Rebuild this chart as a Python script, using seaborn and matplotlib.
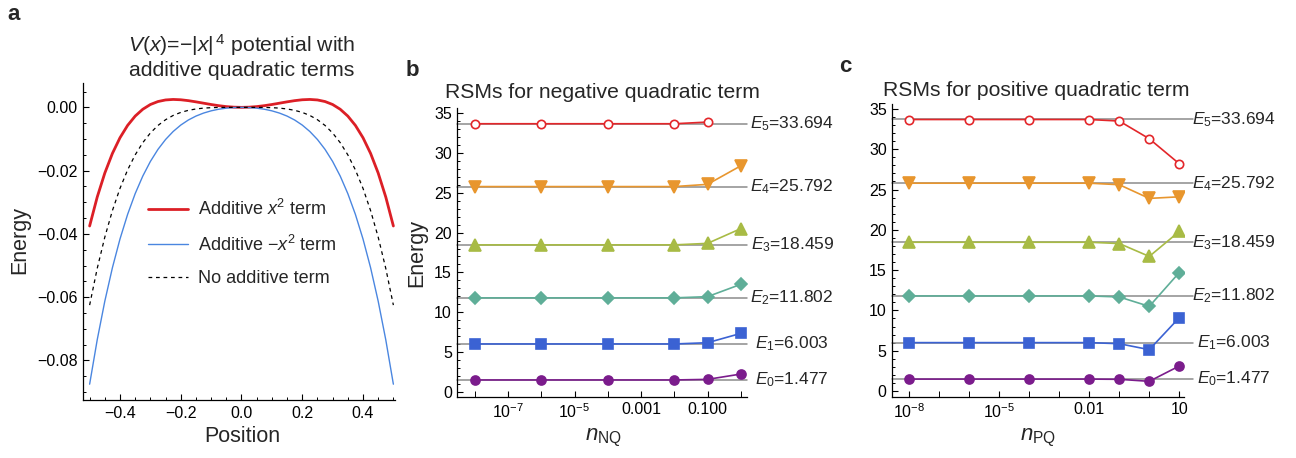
import numpy as np
import matplotlib
matplotlib.use("Agg")
import matplotlib.pyplot as plt
import matplotlib.ticker as mticker
import matplotlib.transforms as mtransforms
import seaborn as sns

# panel a: potentials (x from -0.5 to 0.5, step 0.025)
position = np.linspace(-0.5, 0.5, 41)
v_plus_x2 = [-0.0375, -0.02835, -0.02076, -0.01456, -0.0096, -0.00571, -0.00276, -0.00060,
             0.0009, 0.00184, 0.00234, 0.0025, 0.0024, 0.00212, 0.00174, 0.00132, 0.0009,
             0.00053, 0.00024, 0.00006, 0.0, 0.00006, 0.00024, 0.00053, 0.0009, 0.00132,
             0.00174, 0.00212, 0.0024, 0.0025, 0.00234, 0.00184, 0.0009, -0.00060, -0.00276,
             -0.00571, -0.0096, -0.01456, -0.02076, -0.02835, -0.0375]
v_minus_x2 = [-0.0875, -0.07347, -0.06126, -0.05069, -0.0416, -0.03384, -0.02726, -0.02172,
              -0.0171, -0.01328, -0.01016, -0.00763, -0.0056, -0.004, -0.00276, -0.00181,
              -0.0011, -0.00059, -0.00026, -0.00006, 0.0, -0.00006, -0.00026, -0.00059,
              -0.0011, -0.00181, -0.00276, -0.004, -0.0056, -0.00763, -0.01016, -0.01328,
              -0.0171, -0.02172, -0.02726, -0.03384, -0.0416, -0.05069, -0.06126, -0.07347,
              -0.0875]
v_none = [-0.0625, -0.05091, -0.04101, -0.03263, -0.0256, -0.01978, -0.01501, -0.01116,
          -0.0081, -0.00572, -0.00391, -0.00256, -0.0016, -0.00094, -0.00051, -0.00024,
          -0.0001, -0.00003, -0.00001, 0.0, 0.0, 0.0, -0.00001, -0.00003, -0.0001, -0.00024,
          -0.00051, -0.00094, -0.0016, -0.00256, -0.00391, -0.00572, -0.0081, -0.01116,
          -0.01501, -0.01978, -0.0256, -0.03263, -0.04101, -0.05091, -0.0625]

# exact eigenvalues
levels = [1.477, 6.003, 11.802, 18.459, 25.792, 33.694]
level_labels = ["$E_0$=1.477", "$E_1$=6.003", "$E_2$=11.802",
                "$E_3$=18.459", "$E_4$=25.792", "$E_5$=33.694"]

# panel b: negative quadratic term
n_nq = [1e-8, 1e-6, 1e-4, 1e-2, 1e-1, 1.0]
rsm_nq = [
    [1.477, 1.477, 1.477, 1.477, 1.55, 2.22],
    [6.003, 6.003, 6.003, 6.003, 6.16, 7.33],
    [11.80, 11.80, 11.80, 11.80, 11.95, 13.5],
    [18.46, 18.46, 18.46, 18.46, 18.65, 20.5],
    [25.79, 25.79, 25.79, 25.79, 26.07, 28.4],
    [33.69, 33.69, 33.69, 33.69, 33.9],
]

# panel c: positive quadratic term
n_pq = [1e-8, 1e-6, 1e-4, 1e-2, 1e-1, 1.0, 10.0]
rsm_pq = [
    [1.477, 1.477, 1.477, 1.477, 1.45, 1.2, 3.1],
    [6.003, 6.003, 6.003, 6.003, 5.87, 5.13, 9.1],
    [11.80, 11.80, 11.80, 11.80, 11.67, 10.5, 14.7],
    [18.46, 18.46, 18.46, 18.46, 18.3, 16.7, 19.8],
    [25.79, 25.79, 25.79, 25.79, 25.6, 23.9, 24.1],
    [33.69, 33.69, 33.69, 33.69, 33.5, 31.3, 28.2],
]

colors = ["#7b1c8c", "#3b62d3", "#5fae98", "#a8bb45", "#e8962e", "#e3262a"]
markers = ["o", "s", "D", "^", "v", "o"]
msizes = [6.5, 7.5, 6, 8.5, 8.5, 6]

sns.set_theme(style="ticks")
plt.rcParams["font.family"] = ["Liberation Sans", "DejaVu Sans"]
plt.rcParams["mathtext.fontset"] = "custom"
plt.rcParams["mathtext.rm"] = "Liberation Sans"
plt.rcParams["mathtext.it"] = "Liberation Sans:italic"
plt.rcParams["axes.unicode_minus"] = True

fig = plt.figure(figsize=(12.96, 4.58), dpi=100)
ax_a = fig.add_axes([0.0640, 0.1266, 0.2407, 0.6915])
ax_b = fig.add_axes([0.3529, 0.1338, 0.2233, 0.6304])
ax_c = fig.add_axes([0.6885, 0.1338, 0.2253, 0.6385])


def style_axes(ax):
    for side in ["top", "right"]:
        ax.spines[side].set_visible(False)
    for side in ["left", "bottom"]:
        ax.spines[side].set_linewidth(0.9)
        ax.spines[side].set_color("black")
    ax.tick_params(which="major", direction="in", length=4, width=0.8,
                   labelsize=11.5, colors="black", pad=4)
    ax.tick_params(which="minor", direction="in", length=2.2, width=0.7, colors="black")
    ax.grid(False)


def fmt(dec):
    return mticker.FuncFormatter(lambda v, p: f"{v:.{dec}f}".replace("-", "\u2212"))


# ---- panel a
sns.lineplot(x=position, y=v_plus_x2, ax=ax_a, color="#dc1f26", lw=2.0,
             label="Additive $x^2$ term")
sns.lineplot(x=position, y=v_minus_x2, ax=ax_a, color="#4a86e0", lw=1.0,
             label="Additive \u2212$x^2$ term")
sns.lineplot(x=position, y=v_none, ax=ax_a, color="black", lw=0.9,
             linestyle=(0, (3, 3)), label="No additive term")
ax_a.set_xlim(-0.522, 0.505)
ax_a.set_ylim(-0.0925, 0.0076)
ax_a.xaxis.set_major_locator(mticker.FixedLocator([-0.4, -0.2, 0.0, 0.2, 0.4]))
ax_a.xaxis.set_minor_locator(mticker.MultipleLocator(0.05))
ax_a.yaxis.set_major_locator(mticker.FixedLocator([-0.08, -0.06, -0.04, -0.02, 0.0]))
ax_a.yaxis.set_minor_locator(mticker.MultipleLocator(0.005))
ax_a.xaxis.set_major_formatter(fmt(1))
ax_a.yaxis.set_major_formatter(fmt(2))
style_axes(ax_a)
ax_a.set_xlabel("")
ax_a.set_ylabel("")
ax_a.legend(loc="upper left", bbox_to_anchor=(148 / 1296, 1 - 199 / 458),
            bbox_transform=fig.transFigure, frameon=False, fontsize=13,
            handlelength=2.2, handletextpad=0.55, labelspacing=0.85, borderpad=0,
            borderaxespad=0)


def rsm_panel(ax, xs, series, lab_x, line_end):
    ax.set_xscale("log")
    trans = mtransforms.blended_transform_factory(ax.transAxes, ax.transData)
    for e, lab in zip(levels, level_labels):
        ax.axhline(e, xmin=0, xmax=line_end, color="#8c8c8c", lw=1.1, zorder=1,
                   clip_on=False)
        ax.text(lab_x, e, lab, transform=trans, ha="center", va="center", fontsize=12.5)
    for i, ys in enumerate(series):
        face = "white" if i == 5 else colors[i]
        sns.lineplot(x=xs[:len(ys)], y=ys, ax=ax, color=colors[i], lw=1.2,
                     marker=markers[i], markersize=msizes[i], markerfacecolor=face,
                     markeredgecolor=colors[i], markeredgewidth=1.2, zorder=3)
    ax.yaxis.set_major_locator(mticker.FixedLocator([0, 5, 10, 15, 20, 25, 30, 35]))
    ax.yaxis.set_minor_locator(mticker.MultipleLocator(1))
    style_axes(ax)
    ax.set_ylabel("")


# ---- panel b
rsm_panel(ax_b, n_nq, rsm_nq, 1.1566, 1.0)
ax_b.set_xlim(10 ** -8.523, 10 ** 0.18)
ax_b.set_ylim(-0.63, 35.67)
ax_b.xaxis.set_major_locator(mticker.FixedLocator([1e-7, 1e-5, 1e-3, 1e-1]))
ax_b.xaxis.set_major_formatter(mticker.FixedFormatter(
    ["$10^{-7}$", "$10^{-5}$", "0.001", "0.100"]))
ax_b.xaxis.set_minor_locator(mticker.FixedLocator([1e-8, 1e-6, 1e-4, 1e-2, 1.0]))
ax_b.xaxis.set_minor_formatter(mticker.NullFormatter())
ax_b.tick_params(axis="x", which="minor", length=4)

# ---- panel c
rsm_panel(ax_c, n_pq, rsm_pq, 1.169, 1.03)
ax_c.set_xlim(10 ** -8.567, 10 ** 1.167)
ax_c.set_ylim(-0.71, 35.58)
ax_c.xaxis.set_major_locator(mticker.FixedLocator([1e-8, 1e-5, 1e-2, 10.0]))
ax_c.xaxis.set_major_formatter(mticker.FixedFormatter(
    ["$10^{-8}$", "$10^{-5}$", "0.01", "10"]))
ax_c.xaxis.set_minor_locator(mticker.FixedLocator([1e-7, 1e-6, 1e-4, 1e-3, 1e-1, 1.0]))
ax_c.xaxis.set_minor_formatter(mticker.NullFormatter())
ax_c.tick_params(axis="x", which="minor", length=4)

# titles, axis labels, panel letters
fig.text(242 / 1296, 1 - 56 / 458,
         "$V$($x$)=\u2212|$x$|$^{\\,4}$ potential with\nadditive quadratic terms",
         ha="center", va="center", fontsize=15.3, linespacing=1.25)
fig.text(445 / 1296, 1 - 93 / 458, "RSMs for negative quadratic term",
         ha="left", va="center", fontsize=15.2)
fig.text(883 / 1296, 1 - 90 / 458, "RSMs for positive quadratic term",
         ha="left", va="center", fontsize=15.2)

fig.text(20 / 1296, 1 - 240 / 458, "Energy", rotation=90, ha="center", va="center",
         fontsize=15.5)
fig.text(417 / 1296, 1 - 253 / 458, "Energy", rotation=90, ha="center", va="center",
         fontsize=15.5)
fig.text(242 / 1296, 1 - 437 / 458, "Position", ha="center", va="center", fontsize=15.5)
fig.text(603 / 1296, 1 - 438 / 458, "$n_{\\mathrm{NQ}}$", ha="center", va="center",
         fontsize=16)
fig.text(1038 / 1296, 1 - 438 / 458, "$n_{\\mathrm{PQ}}$", ha="center", va="center",
         fontsize=16)

for lx, ly, letter in [(14, 15, "a"), (412, 70, "b"), (845, 67, "c")]:
    fig.text(lx / 1296, 1 - ly / 458, letter, ha="center", va="center",
             fontsize=16, fontweight="bold")

fig.savefig("out.png", dpi=100)
